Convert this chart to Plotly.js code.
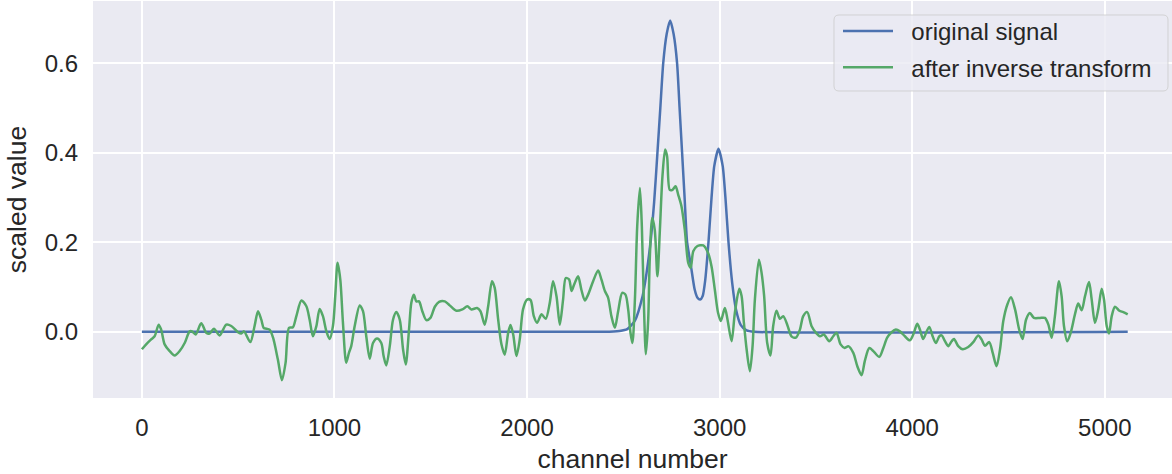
<!DOCTYPE html>
<html>
<head>
<meta charset="utf-8">
<script src="https://cdn.plot.ly/plotly-3.0.1.min.js"></script>
<style>
  html, body { margin: 0; padding: 0; background: #ffffff; }
  #chart { width: 1172px; height: 474px; }
</style>
</head>
<body>
<div id="chart"></div>
<script>
// Original signal: two overlapping peaks on a flat baseline
const originalChannels = [0, 2400, 2480, 2520, 2560, 2600, 2620, 2641, 2660, 2677, 2692, 2707, 2725, 2743, 2761, 2779, 2792, 2805, 2818, 2831, 2850, 2870, 2885, 2899, 2912, 2925, 2942, 2958, 2972, 2994, 3016, 3030, 3046, 3065, 3085, 3110, 3140, 3180, 5119];
const originalValues = [0, 0, 0.002, 0.006, 0.025, 0.080, 0.130, 0.200, 0.290, 0.400, 0.500, 0.600, 0.665, 0.695, 0.665, 0.600, 0.500, 0.400, 0.300, 0.200, 0.150, 0.095, 0.076, 0.072, 0.080, 0.115, 0.200, 0.300, 0.370, 0.409, 0.370, 0.300, 0.200, 0.110, 0.050, 0.015, 0.003, 0, 0];

// Reconstruction after the inverse transform
const inverseChannels = [0, 22, 48, 66, 87, 100, 118, 144, 170, 196, 222, 248, 260, 279, 308, 334, 351, 374, 403, 438, 464, 499, 516, 530, 563, 585, 603, 620, 632, 646, 663, 681, 706, 727, 746, 764, 784, 802, 828, 854, 871, 888, 906, 923, 940, 958, 975, 992, 1004, 1016, 1030, 1044, 1061, 1075, 1087, 1105, 1131, 1148, 1165, 1183, 1200, 1221, 1243, 1255, 1269, 1287, 1304, 1321, 1339, 1356, 1370, 1387, 1399, 1412, 1425, 1439, 1456, 1477, 1498, 1521, 1543, 1573, 1598, 1633, 1664, 1690, 1711, 1740, 1758, 1780, 1798, 1818, 1832, 1850, 1867, 1884, 1902, 1914, 1928, 1945, 1962, 1979, 2000, 2018, 2035, 2052, 2075, 2097, 2118, 2135, 2153, 2170, 2187, 2201, 2218, 2231, 2244, 2265, 2282, 2300, 2317, 2343, 2369, 2386, 2404, 2421, 2438, 2456, 2473, 2494, 2511, 2525, 2537, 2547, 2560, 2572, 2586, 2596, 2606, 2617, 2629, 2637, 2650, 2663, 2677, 2689, 2703, 2717, 2727, 2741, 2755, 2771, 2785, 2802, 2819, 2837, 2850, 2863, 2883, 2915, 2940, 2958, 2975, 2992, 3006, 3027, 3041, 3062, 3079, 3102, 3114, 3126, 3140, 3157, 3171, 3183, 3204, 3218, 3231, 3247, 3264, 3278, 3295, 3313, 3330, 3351, 3373, 3396, 3417, 3434, 3455, 3477, 3500, 3521, 3541, 3569, 3590, 3607, 3628, 3650, 3668, 3694, 3715, 3737, 3754, 3777, 3798, 3829, 3850, 3870, 3893, 3915, 3936, 3962, 3988, 4009, 4026, 4040, 4057, 4075, 4089, 4106, 4123, 4141, 4153, 4170, 4187, 4205, 4217, 4239, 4262, 4291, 4317, 4343, 4360, 4378, 4400, 4418, 4438, 4456, 4473, 4494, 4513, 4534, 4556, 4573, 4591, 4611, 4632, 4663, 4689, 4707, 4724, 4741, 4762, 4776, 4788, 4805, 4823, 4845, 4862, 4880, 4897, 4918, 4932, 4949, 4966, 4984, 4996, 5010, 5022, 5036, 5053, 5076, 5096, 5119];
const inverseValues = [-0.039, -0.028, -0.017, -0.010, 0.016, 0.005, -0.028, -0.043, -0.053, -0.043, -0.025, 0.001, 0.001, -0.006, 0.019, -0.002, -0.004, 0.007, -0.008, 0.016, 0.013, -0.001, -0.004, 0.001, -0.023, 0.013, 0.046, 0.027, 0.009, 0.007, 0.005, -0.013, -0.062, -0.108, -0.069, 0.009, 0.010, 0.035, 0.070, 0.057, 0.027, -0.010, 0.013, 0.051, 0.035, 0.001, -0.016, 0.013, 0.080, 0.154, 0.117, 0.020, -0.069, -0.047, -0.032, 0.013, 0.059, 0.046, -0.010, -0.060, -0.025, -0.015, -0.025, -0.054, -0.075, -0.032, 0.027, 0.044, 0.027, -0.039, -0.073, 0.005, 0.065, 0.083, 0.068, 0.068, 0.046, 0.026, 0.031, 0.056, 0.067, 0.068, 0.059, 0.047, 0.050, 0.057, 0.050, 0.053, 0.046, 0.016, 0.057, 0.113, 0.098, 0.027, -0.028, -0.051, -0.002, 0.015, -0.006, -0.054, -0.017, 0.050, 0.072, 0.071, 0.035, 0.020, 0.039, 0.029, 0.065, 0.113, 0.079, 0.016, 0.072, 0.120, 0.117, 0.091, 0.105, 0.124, 0.094, 0.070, 0.083, 0.113, 0.137, 0.117, 0.091, 0.076, 0.035, 0.009, 0.046, 0.087, 0.083, 0.050, -0.002, -0.025, 0.072, 0.236, 0.321, 0.236, 0.072, -0.050, 0.027, 0.161, 0.254, 0.228, 0.124, 0.221, 0.347, 0.407, 0.392, 0.317, 0.317, 0.325, 0.306, 0.280, 0.228, 0.154, 0.143, 0.180, 0.191, 0.193, 0.176, 0.146, 0.094, 0.042, 0.024, 0.053, 0.027, -0.021, 0.042, 0.096, 0.080, 0.020, -0.039, -0.088, -0.032, 0.072, 0.161, 0.131, 0.080, -0.025, -0.053, 0.013, 0.047, 0.029, 0.035, 0.016, -0.010, -0.013, 0.005, 0.035, 0.044, 0.013, -0.002, -0.010, -0.006, -0.021, -0.010, -0.002, -0.028, -0.036, -0.032, -0.047, -0.077, -0.097, -0.065, -0.036, -0.043, -0.056, -0.036, -0.013, -0.001, 0.005, 0.001, -0.010, -0.019, -0.002, 0.018, 0.005, -0.016, 0.001, 0.011, -0.010, -0.025, -0.010, -0.008, -0.021, -0.032, -0.021, -0.016, -0.032, -0.039, -0.034, -0.023, -0.008, -0.017, -0.031, -0.023, -0.047, -0.077, -0.039, 0.024, 0.061, 0.077, 0.050, 0.004, -0.016, 0.027, 0.042, 0.031, 0.031, 0.031, 0.016, -0.013, 0.035, 0.113, 0.079, 0.013, -0.021, -0.002, 0.039, 0.063, 0.048, 0.079, 0.111, 0.072, 0.020, 0.050, 0.096, 0.072, 0.013, -0.004, 0.035, 0.056, 0.047, 0.044, 0.039];

const xTicks = [0, 1000, 2000, 3000, 4000, 5000];
const yTicks = [0.0, 0.2, 0.4, 0.6];
const seriesNames = ['original signal', 'after inverse transform'];

const textColor = '#262626';
const fontFamily = '"Liberation Sans", Arial, sans-serif';
const gap = '\u00A0\u00A0';

const traces = [
  {
    x: originalChannels, y: originalValues, name: gap + seriesNames[0],
    legendgroup: 'a',
    type: 'scatter', mode: 'lines',
    line: { color: '#4C72B0', width: 2.5, shape: 'spline', smoothing: 0.6 }
  },
  {
    x: inverseChannels, y: inverseValues, name: gap + seriesNames[1],
    legendgroup: 'b',
    type: 'scatter', mode: 'lines',
    line: { color: '#55A868', width: 2.5, shape: 'spline', smoothing: 0.8 }
  }
];

// Legend frame with rounded corners, in paper coordinates
const plotW = 1079, plotH = 397;
const bx0 = (834 - 93) / plotW, bx1 = (1168 - 93) / plotW;
const by0 = (398 - 91) / plotH, by1 = (398 - 15) / plotH;
const rx = 5 / plotW, ry = 5 / plotH;
const framePath = `M ${bx0 + rx},${by0} L ${bx1 - rx},${by0} Q ${bx1},${by0} ${bx1},${by0 + ry} ` +
  `L ${bx1},${by1 - ry} Q ${bx1},${by1} ${bx1 - rx},${by1} L ${bx0 + rx},${by1} ` +
  `Q ${bx0},${by1} ${bx0},${by1 - ry} L ${bx0},${by0 + ry} Q ${bx0},${by0} ${bx0 + rx},${by0} Z`;

const layout = {
  width: 1172, height: 474,
  margin: { l: 93, r: 0, t: 1, b: 76, pad: 0 },
  paper_bgcolor: '#ffffff',
  plot_bgcolor: '#EAEAF2',
  font: { family: fontFamily, color: textColor, size: 24 },
  showlegend: true,
  legend: {
    x: (838 - 93) / plotW, y: (398 - 9) / plotH, xanchor: 'left', yanchor: 'top',
    bgcolor: 'rgba(0,0,0,0)', borderwidth: 0,
    font: { family: fontFamily, color: textColor, size: 24 },
    itemwidth: 50, tracegroupgap: 2
  },
  shapes: [{
    type: 'path', xref: 'paper', yref: 'paper', path: framePath, layer: 'above',
    fillcolor: 'rgba(234,234,242,0.8)',
    line: { color: 'rgba(204,204,204,0.8)', width: 1 }
  }],
  xaxis: {
    range: [-254, 5349],
    tickvals: xTicks, ticktext: xTicks.map(String),
    showgrid: true, gridcolor: '#ffffff', gridwidth: 2,
    zeroline: false, showline: false, ticks: '',
    ticklabelstandoff: 13,
    tickfont: { family: fontFamily, color: textColor, size: 24 },
    title: { text: 'channel number', font: { family: fontFamily, color: textColor, size: 26.5 }, standoff: 10 }
  },
  yaxis: {
    range: [-0.1478, 0.7387],
    tickvals: yTicks, ticktext: yTicks.map(v => v.toFixed(1)),
    showgrid: true, gridcolor: '#ffffff', gridwidth: 2,
    zeroline: false, showline: false, ticks: '',
    ticklabelstandoff: 14,
    tickfont: { family: fontFamily, color: textColor, size: 24 },
    title: { text: 'scaled value', font: { family: fontFamily, color: textColor, size: 26.5 }, standoff: 10 }
  },
  hovermode: false
};

Plotly.newPlot('chart', traces, layout, { displayModeBar: false, staticPlot: true });
</script>
</body>
</html>
